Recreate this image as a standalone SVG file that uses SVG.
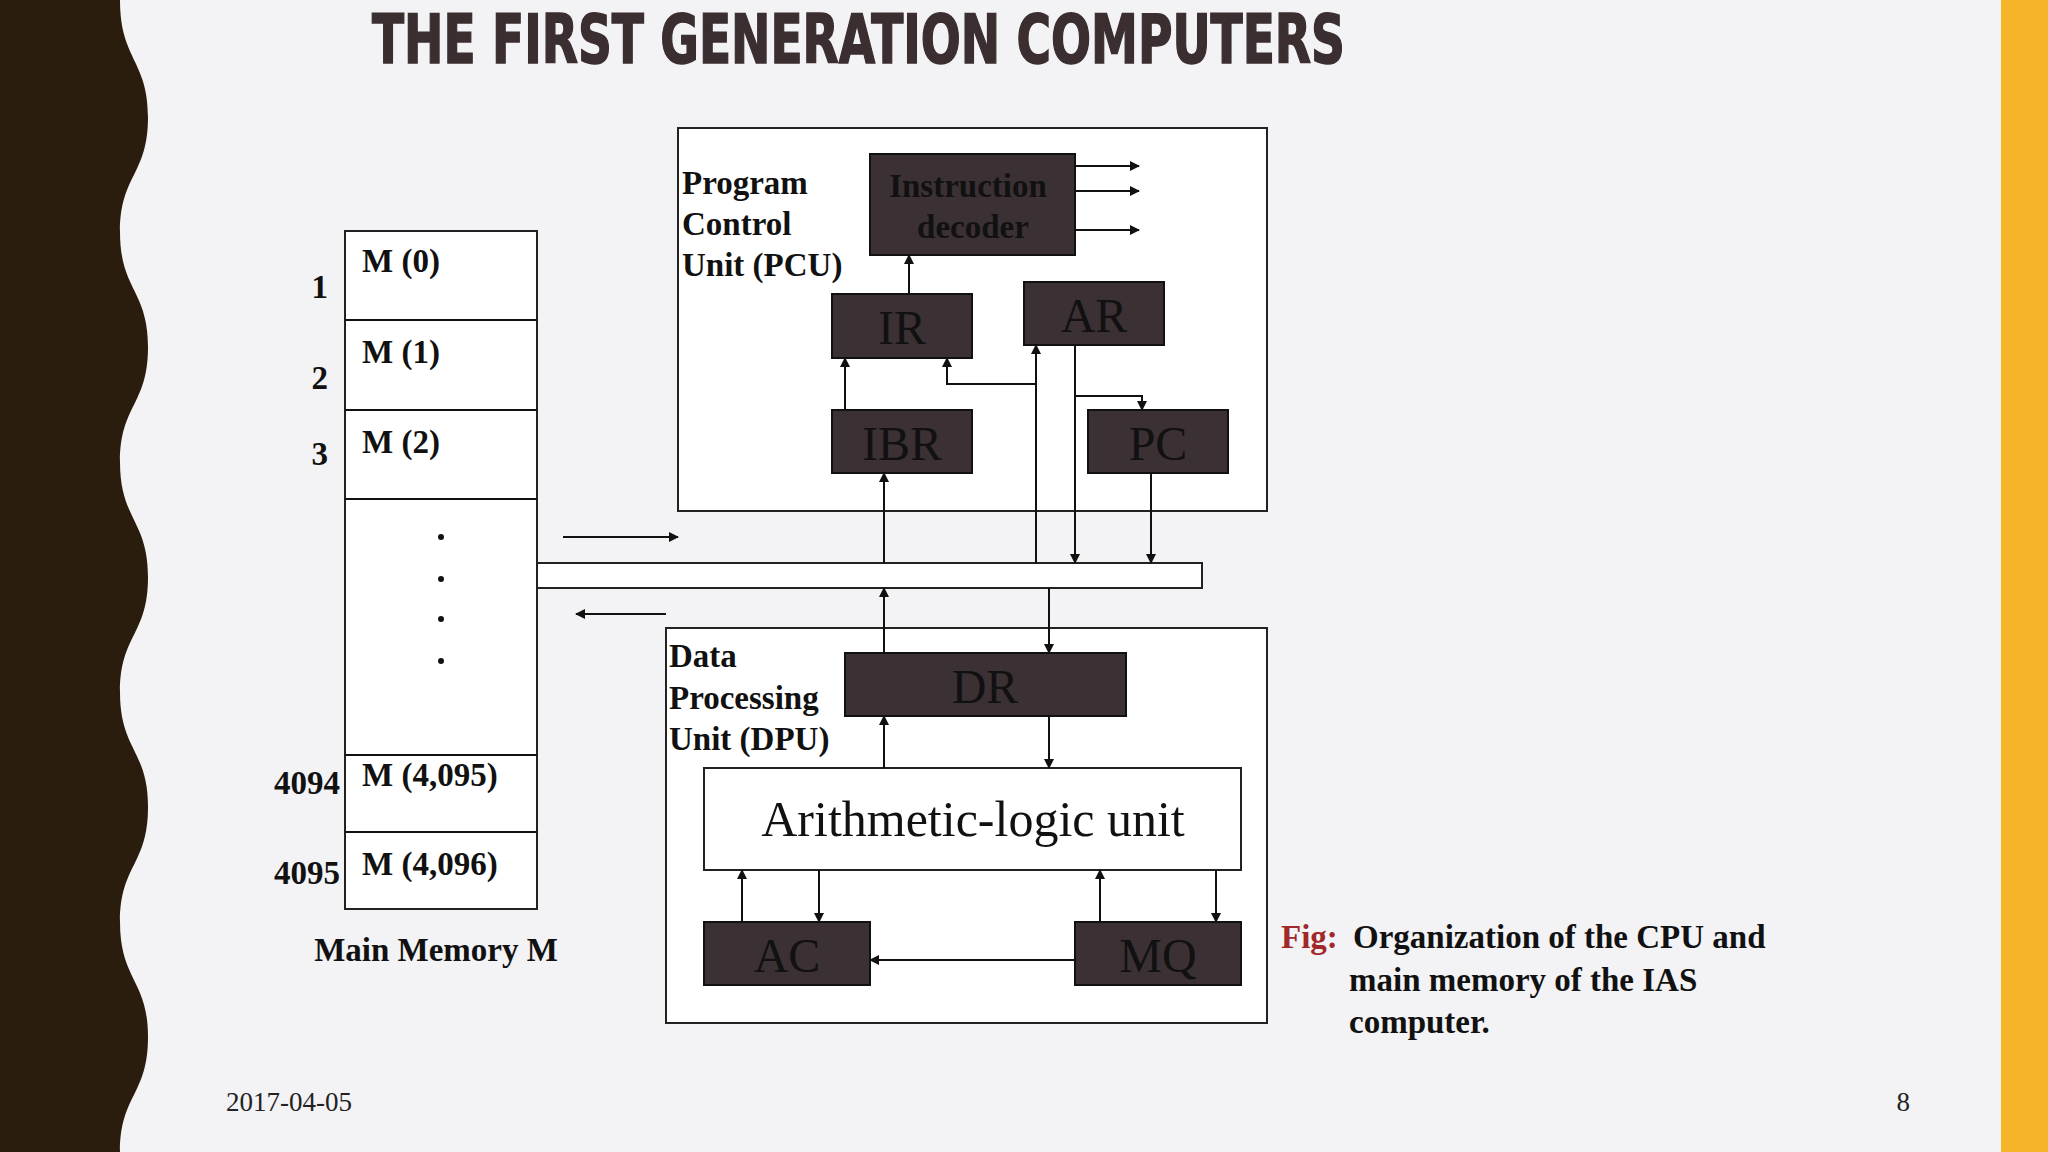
<svg xmlns="http://www.w3.org/2000/svg" width="2048" height="1152" viewBox="0 0 2048 1152">
<style>
.box{fill:#fff;stroke:#222;stroke-width:2}
.reg{fill:#3b3034;stroke:#111;stroke-width:2}
.rt{font-family:"Liberation Serif",serif;font-size:48px;fill:#111;text-anchor:middle}
.b{font-family:"Liberation Serif",serif;font-weight:bold;font-size:33px;fill:#111}
.ln{stroke:#111;stroke-width:2;fill:none}
.ar{stroke:#111;stroke-width:2;fill:none;marker-end:url(#ah)}
</style>
<defs><marker id="ah" markerWidth="10" markerHeight="10" refX="9" refY="5" orient="auto" markerUnits="userSpaceOnUse"><path d="M0,0 L10,5 L0,10 z" fill="#111"/></marker></defs>
<rect width="2048" height="1152" fill="#f3f2f5"/>
<rect x="2001" y="0" width="47" height="1152" fill="#f6b42a"/>
<path d="M0,0 H120 C120,60 148,60 148,117 C148,175 120,175 120,232 C120,290 148,290 148,347 C148,405 120,405 120,462 C120,520 148,520 148,577 C148,635 120,635 120,692 C120,750 148,750 148,807 C148,865 120,865 120,922 C120,980 148,980 148,1037 C148,1095 120,1095 120,1152 H0 Z" fill="#2b1d0e"/>
<text x="372" y="63" font-family="'DejaVu Sans Condensed','DejaVu Sans',sans-serif" font-weight="bold" font-size="68" fill="#3a2e30" stroke="#3a2e30" stroke-width="1.5" textLength="973" lengthAdjust="spacingAndGlyphs">THE FIRST GENERATION COMPUTERS</text>
<g id="memory">
<rect class="box" x="345" y="231" width="192" height="678"/>
<path class="ln" d="M345,320H537M345,410H537M345,499H537M345,755H537M345,832H537"/>
<text class="b" x="362" y="272">M (0)</text><text class="b" x="362" y="363">M (1)</text><text class="b" x="362" y="453">M (2)</text>
<text class="b" x="362" y="786">M (4,095)</text><text class="b" x="362" y="875">M (4,096)</text>
<g class="b" text-anchor="end"><text x="328" y="298">1</text><text x="328" y="389">2</text><text x="328" y="465">3</text><text x="340" y="794">4094</text><text x="340" y="884">4095</text></g>
<g fill="#111"><circle cx="441" cy="537" r="3"/><circle cx="441" cy="579" r="3"/><circle cx="441" cy="619" r="3"/><circle cx="441" cy="661" r="3"/></g>
<text class="b" x="436" y="961" text-anchor="middle">Main Memory M</text>
</g>
<g id="pcu"><rect class="box" x="678" y="128" width="589" height="383"/>
<text class="b" x="682" y="194">Program</text><text class="b" x="682" y="235">Control</text><text class="b" x="682" y="276">Unit (PCU)</text></g>
<g id="decoder"><rect class="reg" x="870" y="154" width="205" height="101"/>
<text class="b" x="968" y="197" text-anchor="middle">Instruction</text><text class="b" x="973" y="238" text-anchor="middle">decoder</text></g>
<g id="ir"><rect class="reg" x="832" y="294" width="140" height="64"/><text class="rt" x="902" y="344">IR</text></g>
<g id="ar"><rect class="reg" x="1024" y="282" width="140" height="63"/><text class="rt" x="1094" y="332">AR</text></g>
<g id="ibr"><rect class="reg" x="832" y="410" width="140" height="63"/><text class="rt" x="902" y="460">IBR</text></g>
<g id="pc"><rect class="reg" x="1088" y="410" width="140" height="63"/><text class="rt" x="1158" y="460">PC</text></g>
<g id="bus"><rect class="box" x="537" y="563" width="665" height="25"/></g>
<g id="dpu"><rect class="box" x="666" y="628" width="601" height="395"/>
<text class="b" x="669" y="667">Data</text><text class="b" x="669" y="709">Processing</text><text class="b" x="669" y="750">Unit (DPU)</text></g>
<g id="dr"><rect class="reg" x="845" y="653" width="281" height="63"/><text class="rt" x="985" y="703">DR</text></g>
<g id="alu"><rect class="box" x="704" y="768" width="537" height="102"/><text class="rt" x="973" y="836" style="font-size:50px">Arithmetic-logic unit</text></g>
<g id="ac"><rect class="reg" x="704" y="922" width="166" height="63"/><text class="rt" x="787" y="972">AC</text></g>
<g id="mq"><rect class="reg" x="1075" y="922" width="166" height="63"/><text class="rt" x="1158" y="972">MQ</text></g>
<g id="connectors">
<path class="ar" d="M1075,166H1139"/><path class="ar" d="M1075,191H1139"/><path class="ar" d="M1075,230H1139"/>
<path class="ar" d="M909,294V255"/>
<path class="ar" d="M845,410V358"/>
<path class="ar" d="M1036,563V345"/>
<path class="ar" d="M1036,384H947V358"/>
<path class="ar" d="M1075,345V563"/>
<path class="ar" d="M1075,396H1142V410"/>
<path class="ar" d="M1151,473V563"/>
<path class="ar" d="M884,563V473"/>
<path class="ar" d="M884,653V588"/>
<path class="ar" d="M1049,588V653"/>
<path class="ar" d="M884,768V716"/>
<path class="ar" d="M1049,716V768"/>
<path class="ar" d="M742,922V870"/>
<path class="ar" d="M819,870V922"/>
<path class="ar" d="M1100,922V870"/>
<path class="ar" d="M1216,870V922"/>
<path class="ar" d="M1075,960H870"/>
<path class="ar" d="M563,537H678"/>
<path class="ar" d="M666,614H576"/>
</g>
<text class="b" x="1281" y="948" style="fill:#a0282a">Fig:</text>
<text class="b" x="1353" y="948">Organization of the CPU and</text>
<text class="b" x="1349" y="991">main memory of the IAS</text>
<text class="b" x="1349" y="1033">computer.</text>
<text x="226" y="1111" font-family="'Liberation Serif',serif" font-size="27" fill="#222">2017-04-05</text>
<text x="1910" y="1111" font-family="'Liberation Serif',serif" font-size="27" fill="#222" text-anchor="end">8</text>
</svg>
